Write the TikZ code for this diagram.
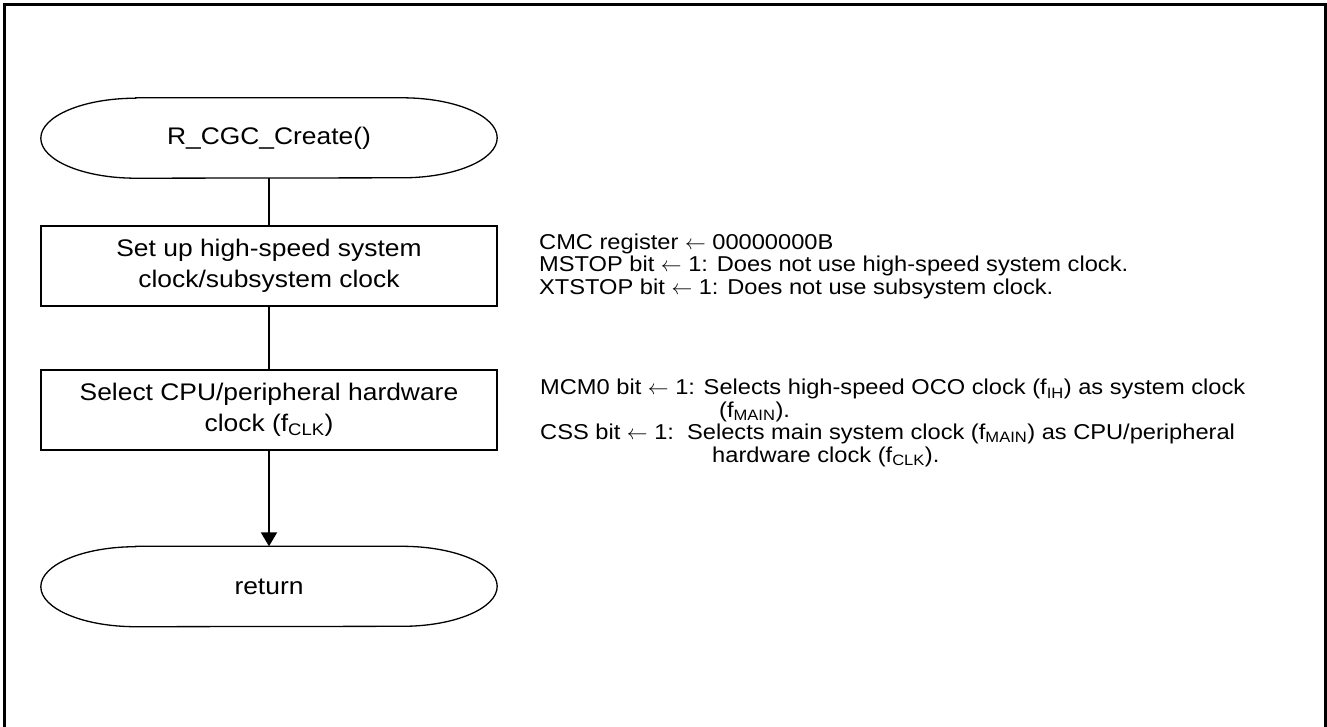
\documentclass[tikz,border=0pt]{standalone}
\usepackage{fontspec}
\setmainfont{Liberation Sans}[FakeStretch=1.1]
\usetikzlibrary{arrows.meta}
\tikzset{
  term/.style={minimum width=456pt, minimum height=80pt, inner sep=0pt, font=\fontsize{24}{31}\selectfont},
  termline/.style={line width=1.3pt},
  proc/.style={draw, line width=2.3pt, minimum width=456pt, minimum height=80pt, inner sep=0pt, align=center, font=\fontsize{24}{31}\selectfont},
  conn/.style={line width=2pt},
  arr/.style={line width=2pt, -{Triangle[width=16pt,length=14pt]}},
  note/.style={anchor=base west, inner sep=0pt, align=left, font=\fontsize{21.5}{22.4}\selectfont},
  frame/.style={line width=2.7pt}
}
\newcommand{\termshape}[1]{%
  \draw[termline] ([xshift=95pt]#1.north west) -- ([xshift=-95pt]#1.north east)
    arc[start angle=90, end angle=-90, x radius=95pt, y radius=40pt]
    -- ([xshift=95pt]#1.south west)
    arc[start angle=270, end angle=90, x radius=95pt, y radius=40pt] -- cycle;}
\begin{document}
\begin{tikzpicture}[x=1pt, y=-1pt]
\useasboundingbox (0,0) rectangle (1327,726);
\clip (0,0) rectangle (1327,726);
\draw[frame] (4.5,740) -- (4.5,4.5) -- (1325.5,4.5) -- (1325.5,740);

\node[term] (start) at (269,138) {R\_CGC\_Create()};
\termshape{start}
\node[proc] (setup) at (269,266) {Set up high-speed system\\clock/subsystem clock};
\node[proc] (select) at (269,410) {Select CPU/peripheral hardware\\clock (f\textsubscript{CLK})};
\node[term] (ret) at (269,586.5) {return};
\termshape{ret}

\draw[conn] (start.south) -- (setup.north);
\draw[conn] (setup.south) -- (select.north);
\draw[arr] (select.south) -- (ret.north);

\node[note] (n1) at (539,294) {CMC register $\leftarrow$ 00000000B\\
MSTOP bit $\leftarrow$ 1: Does not use high-speed system clock.\\
XTSTOP bit $\leftarrow$ 1: Does not use subsystem clock.};

\node[note] (n2) at (540,462) {MCM0 bit $\leftarrow$ 1: Selects high-speed OCO clock (f\textsubscript{IH}) as system clock\\
\hspace*{179pt}(f\textsubscript{MAIN}).\\
CSS bit $\leftarrow$ 1:\ \ Selects main system clock (f\textsubscript{MAIN}) as CPU/peripheral\\
\hspace*{172pt}hardware clock (f\textsubscript{CLK}).};
\end{tikzpicture}
\end{document}
